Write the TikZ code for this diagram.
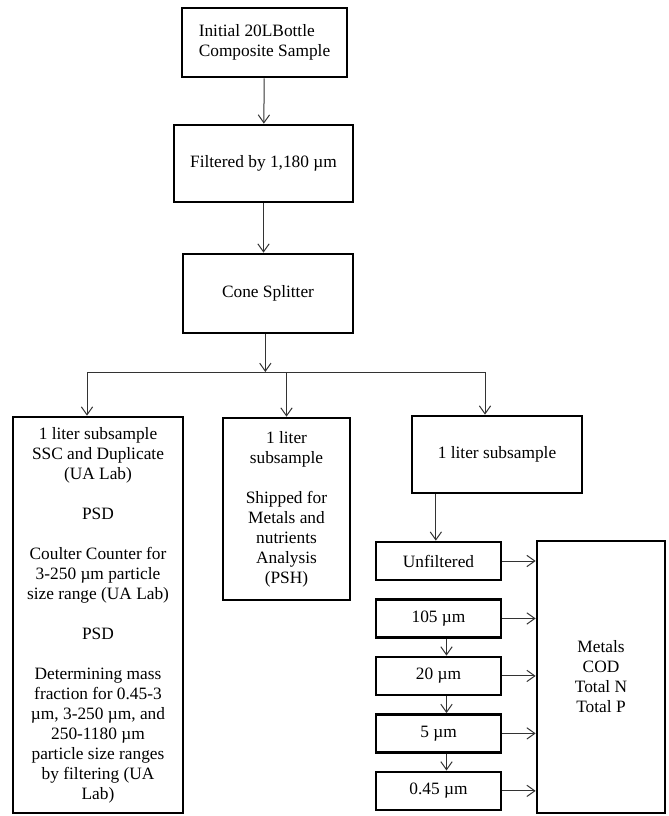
\documentclass[tikz,border=0pt]{standalone}
\usepackage{fontspec}
\setmainfont{Liberation Serif}
\usepackage{tikz}
\usetikzlibrary{arrows.meta, positioning, calc}

\begin{document}
\begin{tikzpicture}[
    x=0.75pt, y=-0.75pt,
    box/.style={rectangle, draw=black, line width=2pt, align=center, font=\fontsize{13}{15}\selectfont, inner sep=2pt},
    filterbox/.style={box, minimum width=93.75pt, minimum height=28.5pt},
    link/.style={draw=black!80, line width=0.75pt},
    arr/.style={link, -{Straight Barb[length=6pt,width=8.5pt]}},
    node distance=12.6pt
]
    \useasboundingbox (0,0) rectangle (668,816);

    % Main chain from top
    \node[box, minimum width=123.75pt, minimum height=51.75pt, align=left] (init) at (264.5,42.5) {Initial 20LBottle\\Composite Sample};
    \node[box, minimum width=134.25pt, minimum height=57.75pt] (filter) at (263.5,163.5) {Filtered by 1,180 µm};
    \node[box, minimum width=127.5pt, minimum height=59.25pt] (cone) at (268,293.5) {Cone Splitter};

    % Three subsamples
    \node[box, minimum width=127.5pt, minimum height=297pt] (ssc) at (98,615) {1 liter subsample\\SSC and Duplicate\\(UA Lab)\\[15pt]PSD\\[15pt]Coulter Counter for\\3-250 µm particle\\size range (UA Lab)\\[15pt]PSD\\[15pt]Determining mass\\fraction for 0.45-3\\µm, 3-250 µm, and\\250-1180 µm\\particle size ranges\\by filtering (UA\\Lab)};
    \node[box, minimum width=95.25pt, minimum height=136.5pt] (psh) at (286.5,509) {1 liter\\subsample\\[15pt]Shipped for\\Metals and\\nutrients\\Analysis\\(PSH)};
    \node[box, minimum width=127.5pt, minimum height=57.75pt] (sub) at (497,454.5) {1 liter subsample};

    % Filter fractions
    \node[filterbox] (unf) at (438.5,561) {Unfiltered};
    \node[filterbox, below=of unf] (f105) {105 µm};
    \node[filterbox, below=of f105] (f20) {20 µm};
    \node[filterbox, below=of f20] (f5) {5 µm};
    \node[filterbox, below=of f5] (f045) {0.45 µm};
    \node[box, minimum width=96pt, minimum height=204pt] (res) at (601,677) {Metals\\COD\\Total N\\Total P};

    % Connectors
    \coordinate (busL) at (87,372);
    \coordinate (busR) at (485,372);
    \draw[arr] (init) -- (filter);
    \draw[arr] (filter) -- (filter.south |- cone.north);
    \draw[arr] ([xshift=-2pt]cone.south) -- ([xshift=-2pt]cone.south |- busL);
    \draw[link] (busL) -- (busR);
    \draw[arr] (busL) -- (busL |- ssc.north);
    \draw[arr] (psh.north |- busL) -- (psh.north);
    \draw[arr] (busR) -- (busR |- sub.north);
    \draw[arr] ([xshift=-2pt]unf.north |- sub.south) -- ([xshift=-2pt]unf.north);
    \draw[arr] ([xshift=6pt]f105.south) -- ([xshift=6pt]f20.north);
    \draw[arr] ([xshift=6pt]f20.south) -- ([xshift=6pt]f5.north);
    \draw[arr] ([xshift=6pt]f5.south) -- ([xshift=6pt]f045.north);
    \foreach \f in {unf, f105, f20, f5, f045}
        \draw[arr] (\f.east) -- (\f.east -| res.west);

\end{tikzpicture}
\end{document}
